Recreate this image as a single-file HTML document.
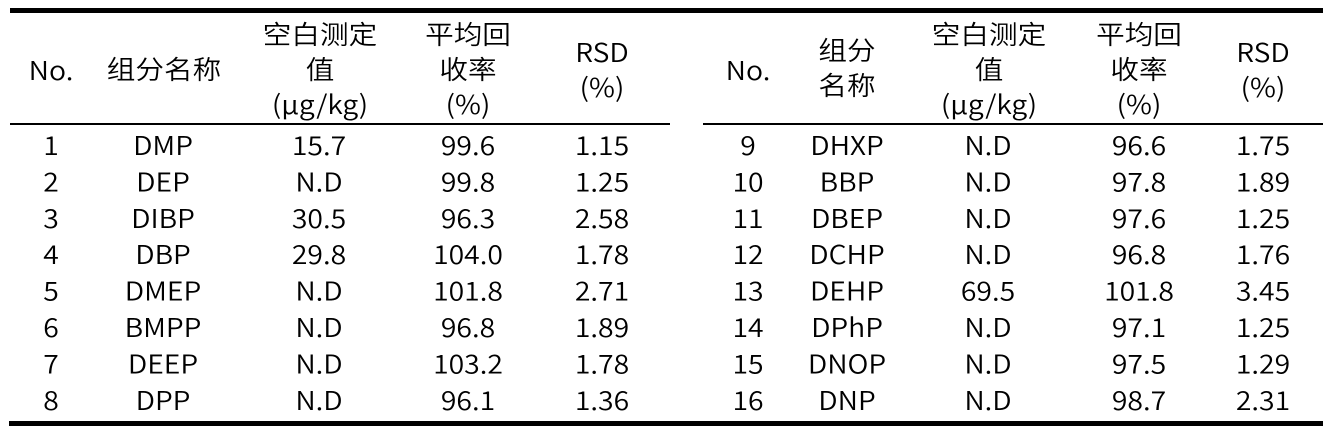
<!DOCTYPE html>
<html><head><meta charset="utf-8"><style>
html,body{margin:0;padding:0;background:#fff;}
svg{display:block;}
text{font-family:"Noto Sans CJK SC","Liberation Sans",sans-serif;font-size:26px;font-weight:350;fill:#000;text-anchor:middle;}
</style></head><body>
<svg width="1340" height="430" viewBox="0 0 1340 430" xmlns="http://www.w3.org/2000/svg">
<rect x="0" y="0" width="1340" height="430" fill="#fff"/>
<rect x="10" y="8" width="1313" height="5" fill="#000"/>
<rect x="10" y="123" width="660" height="2" fill="#000"/>
<rect x="703" y="123" width="620" height="2" fill="#000"/>
<rect x="9" y="421" width="1314" height="5" fill="#000"/>

<!-- Left header -->
<text transform="matrix(1.09 0 0 1 51 80)">No.</text>
<text transform="matrix(1.1 0 0 1 164 79)">组分名称</text>
<text transform="matrix(1.1 0 0 1 320 44)">空白测定</text>
<text transform="matrix(1.1 0 0 1 320 79)">值</text>
<text transform="matrix(1.09 0 0 1 320 114)">(µg/kg)</text>
<text transform="matrix(1.1 0 0 1 468 44)">平均回</text>
<text transform="matrix(1.1 0 0 1 468 79)">收率</text>
<text transform="matrix(1.09 0 0 1 468 114)">(%)</text>
<text transform="matrix(1.09 0 0 1 602 62)">RSD</text>
<text transform="matrix(1.09 0 0 1 602 97)">(%)</text>

<!-- Right header -->
<text transform="matrix(1.09 0 0 1 748 80)">No.</text>
<text transform="matrix(1.1 0 0 1 847 60)">组分</text>
<text transform="matrix(1.1 0 0 1 847 95)">名称</text>
<text transform="matrix(1.1 0 0 1 989 44)">空白测定</text>
<text transform="matrix(1.1 0 0 1 989 79)">值</text>
<text transform="matrix(1.09 0 0 1 989 114)">(µg/kg)</text>
<text transform="matrix(1.1 0 0 1 1139 44)">平均回</text>
<text transform="matrix(1.1 0 0 1 1139 79)">收率</text>
<text transform="matrix(1.09 0 0 1 1139 114)">(%)</text>
<text transform="matrix(1.09 0 0 1 1263 62)">RSD</text>
<text transform="matrix(1.09 0 0 1 1263 97)">(%)</text>

<!-- Left rows -->
<text transform="matrix(1.09 0 0 1 51 155)">1</text>
<text transform="matrix(1.09 0 0 1 163 155)">DMP</text>
<text transform="matrix(1.09 0 0 1 319 155)">15.7</text>
<text transform="matrix(1.09 0 0 1 468 155)">99.6</text>
<text transform="matrix(1.09 0 0 1 602 155)">1.15</text>

<text transform="matrix(1.09 0 0 1 51 191.4)">2</text>
<text transform="matrix(1.09 0 0 1 163 191.4)">DEP</text>
<text transform="matrix(1.09 0 0 1 319 191.4)">N.D</text>
<text transform="matrix(1.09 0 0 1 468 191.4)">99.8</text>
<text transform="matrix(1.09 0 0 1 602 191.4)">1.25</text>

<text transform="matrix(1.09 0 0 1 51 227.8)">3</text>
<text transform="matrix(1.09 0 0 1 163 227.8)">DIBP</text>
<text transform="matrix(1.09 0 0 1 319 227.8)">30.5</text>
<text transform="matrix(1.09 0 0 1 468 227.8)">96.3</text>
<text transform="matrix(1.09 0 0 1 602 227.8)">2.58</text>

<text transform="matrix(1.09 0 0 1 51 264.2)">4</text>
<text transform="matrix(1.09 0 0 1 163 264.2)">DBP</text>
<text transform="matrix(1.09 0 0 1 319 264.2)">29.8</text>
<text transform="matrix(1.09 0 0 1 468 264.2)">104.0</text>
<text transform="matrix(1.09 0 0 1 602 264.2)">1.78</text>

<text transform="matrix(1.09 0 0 1 51 300.6)">5</text>
<text transform="matrix(1.09 0 0 1 163 300.6)">DMEP</text>
<text transform="matrix(1.09 0 0 1 319 300.6)">N.D</text>
<text transform="matrix(1.09 0 0 1 468 300.6)">101.8</text>
<text transform="matrix(1.09 0 0 1 602 300.6)">2.71</text>

<text transform="matrix(1.09 0 0 1 51 337)">6</text>
<text transform="matrix(1.09 0 0 1 163 337)">BMPP</text>
<text transform="matrix(1.09 0 0 1 319 337)">N.D</text>
<text transform="matrix(1.09 0 0 1 468 337)">96.8</text>
<text transform="matrix(1.09 0 0 1 602 337)">1.89</text>

<text transform="matrix(1.09 0 0 1 51 373.4)">7</text>
<text transform="matrix(1.09 0 0 1 163 373.4)">DEEP</text>
<text transform="matrix(1.09 0 0 1 319 373.4)">N.D</text>
<text transform="matrix(1.09 0 0 1 468 373.4)">103.2</text>
<text transform="matrix(1.09 0 0 1 602 373.4)">1.78</text>

<text transform="matrix(1.09 0 0 1 51 409.8)">8</text>
<text transform="matrix(1.09 0 0 1 163 409.8)">DPP</text>
<text transform="matrix(1.09 0 0 1 319 409.8)">N.D</text>
<text transform="matrix(1.09 0 0 1 468 409.8)">96.1</text>
<text transform="matrix(1.09 0 0 1 602 409.8)">1.36</text>

<!-- Right rows -->
<text transform="matrix(1.09 0 0 1 748 155)">9</text>
<text transform="matrix(1.09 0 0 1 847 155)">DHXP</text>
<text transform="matrix(1.09 0 0 1 988 155)">N.D</text>
<text transform="matrix(1.09 0 0 1 1139 155)">96.6</text>
<text transform="matrix(1.09 0 0 1 1263 155)">1.75</text>

<text transform="matrix(1.09 0 0 1 748 191.4)">10</text>
<text transform="matrix(1.09 0 0 1 847 191.4)">BBP</text>
<text transform="matrix(1.09 0 0 1 988 191.4)">N.D</text>
<text transform="matrix(1.09 0 0 1 1139 191.4)">97.8</text>
<text transform="matrix(1.09 0 0 1 1263 191.4)">1.89</text>

<text transform="matrix(1.09 0 0 1 748 227.8)">11</text>
<text transform="matrix(1.09 0 0 1 847 227.8)">DBEP</text>
<text transform="matrix(1.09 0 0 1 988 227.8)">N.D</text>
<text transform="matrix(1.09 0 0 1 1139 227.8)">97.6</text>
<text transform="matrix(1.09 0 0 1 1263 227.8)">1.25</text>

<text transform="matrix(1.09 0 0 1 748 264.2)">12</text>
<text transform="matrix(1.09 0 0 1 847 264.2)">DCHP</text>
<text transform="matrix(1.09 0 0 1 988 264.2)">N.D</text>
<text transform="matrix(1.09 0 0 1 1139 264.2)">96.8</text>
<text transform="matrix(1.09 0 0 1 1263 264.2)">1.76</text>

<text transform="matrix(1.09 0 0 1 748 300.6)">13</text>
<text transform="matrix(1.09 0 0 1 847 300.6)">DEHP</text>
<text transform="matrix(1.09 0 0 1 988 300.6)">69.5</text>
<text transform="matrix(1.09 0 0 1 1139 300.6)">101.8</text>
<text transform="matrix(1.09 0 0 1 1263 300.6)">3.45</text>

<text transform="matrix(1.09 0 0 1 748 337)">14</text>
<text transform="matrix(1.09 0 0 1 847 337)">DPhP</text>
<text transform="matrix(1.09 0 0 1 988 337)">N.D</text>
<text transform="matrix(1.09 0 0 1 1139 337)">97.1</text>
<text transform="matrix(1.09 0 0 1 1263 337)">1.25</text>

<text transform="matrix(1.09 0 0 1 748 373.4)">15</text>
<text transform="matrix(1.09 0 0 1 847 373.4)">DNOP</text>
<text transform="matrix(1.09 0 0 1 988 373.4)">N.D</text>
<text transform="matrix(1.09 0 0 1 1139 373.4)">97.5</text>
<text transform="matrix(1.09 0 0 1 1263 373.4)">1.29</text>

<text transform="matrix(1.09 0 0 1 748 409.8)">16</text>
<text transform="matrix(1.09 0 0 1 847 409.8)">DNP</text>
<text transform="matrix(1.09 0 0 1 988 409.8)">N.D</text>
<text transform="matrix(1.09 0 0 1 1139 409.8)">98.7</text>
<text transform="matrix(1.09 0 0 1 1263 409.8)">2.31</text>
</svg>
</body></html>
